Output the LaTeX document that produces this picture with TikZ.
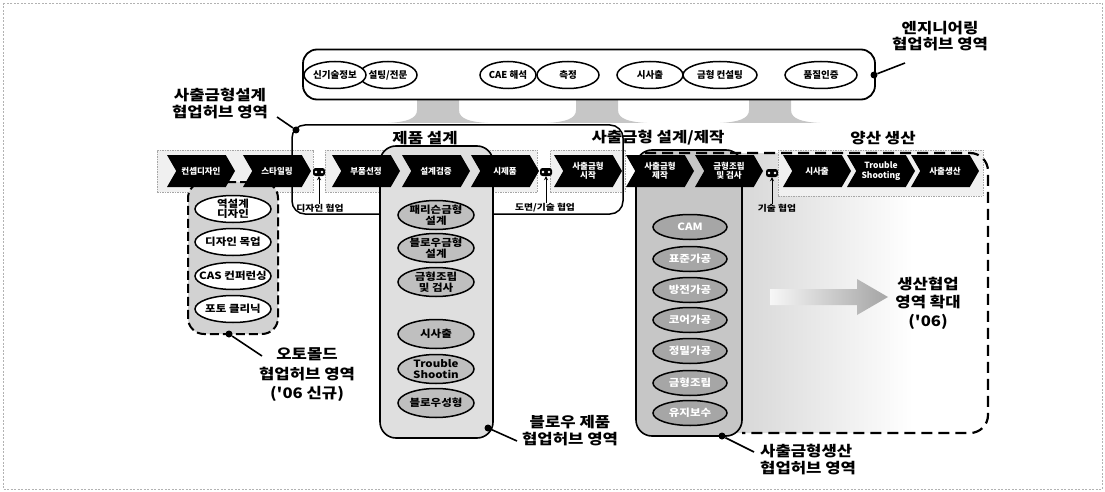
\documentclass[tikz,border=0pt]{standalone}
\usepackage{fontspec}
\setmainfont{Noto Sans CJK KR}
\newfontfamily\lblfont{Noto Sans CJK KR}[FakeStretch=1.15]
\usetikzlibrary{shapes.geometric,shapes.symbols,arrows.meta}
\pgfdeclarehorizontalshading{prodfade}{100bp}{color(0bp)=(gray!60); color(35bp)=(gray!28); color(62bp)=(white); color(100bp)=(white)}
\pgfdeclarehorizontalshading{arrowfade}{100bp}{color(0bp)=(white); color(20bp)=(white); color(70bp)=(gray!65); color(100bp)=(gray!80)}
\tikzset{
  lbl/.style={font=\lblfont\bfseries\fontsize{14.5}{17}\selectfont, align=center, inner sep=0pt},
  small/.style={font=\lblfont\bfseries\fontsize{8.5}{9}\selectfont, inner sep=0pt},
  chev/.style={signal, signal from=west, signal to=east, signal pointer angle=120, fill=black, text=white, minimum width=68pt, minimum height=32pt, inner sep=0pt, font=\bfseries\fontsize{8.5}{9.5}\selectfont, align=center},
  grp/.style={draw=gray!70, dash pattern=on 1.5pt off 1pt, fill=gray!12, line width=0.8pt, minimum height=42pt, inner sep=0pt},
  colbox/.style={draw=black, line width=1.6pt, rounded corners=16pt, inner sep=0pt},
  etxt/.style={font=\lblfont\bfseries\fontsize{10}{10.5}\selectfont, align=center, inner sep=0pt},
  etxte/.style={font=\bfseries\fontsize{9.5}{10}\selectfont, align=center, inner sep=0pt},
  etxtw/.style={etxt, text=white},
  elw/.style={ellipse, draw=black, line width=1.5pt, fill=white, inner sep=0pt, minimum height=27pt},
  elg/.style={elw, fill=gray!50, minimum height=29pt, minimum width=76pt},
  eld/.style={elw, fill=gray!70, minimum height=25pt, minimum width=74pt},
  ela/.style={elw, minimum width=76pt},
  linksym/.style={fill=black, rounded corners=2.5pt, minimum width=12pt, minimum height=8pt, inner sep=0pt,
    path picture={\fill[white] ([xshift=-3pt]path picture bounding box.center) circle (1.3pt) ([xshift=3pt]path picture bounding box.center) circle (1.3pt);}},
  dotc/.style={circle, fill=black, minimum size=7pt, inner sep=0pt},
  leader/.style={line width=1.6pt},
  uparrow/.style={line width=1pt, -{Stealth[length=4pt,width=4pt]}},
  frame/.style={draw=gray!60, line width=0.6pt, dash pattern=on 2pt off 1.5pt},
  downarr/.style={fill=gray!45},
}
\begin{document}
\begin{tikzpicture}[x=1pt,y=-1pt]
\useasboundingbox (0,0) rectangle (1105,492);
\draw[frame] (3,3) rectangle (1102,489);

% production area shading
\shade[shading=prodfade, rounded corners=18pt] (700,153) rectangle (988,433);

% chevron group boxes
\node[grp, minimum width=156pt] (g1) at (235,171) {};
\node[grp, minimum width=212pt] (g2) at (431,171) {};
\node[grp, minimum width=75pt] (g3) at (587.5,171) {};
\node[grp, minimum width=205pt, minimum height=46pt] (g4) at (880.5,173) {};

% injection-mould design hub outline
\node[draw=black, line width=1.5pt, rounded corners=13pt, minimum width=331pt, minimum height=89pt, inner sep=0pt] (hub) at (457.5,169.5) {};

% columns
\node[colbox, fill=gray!35, dash pattern=on 9pt off 4pt, line width=2pt, minimum width=90pt, minimum height=152pt] (colA) at (233,258) {};
\node[colbox, fill=gray!25, minimum width=113pt, minimum height=292pt] (colB) at (436.5,292) {};
\node[colbox, fill=gray!45, minimum width=106pt, minimum height=286pt] (colC) at (689,293) {};

% mass production dashed outline
\draw[line width=2.2pt, dash pattern=on 11pt off 6pt, rounded corners=18pt] (645,153) -- (988,153) -- (988,433) -- (742,433);

% down arrows from engineering hub
\foreach \c in {438,597,770} {
  \fill[downarr] (\c-21,99) -- (\c+21,99) -- (\c+21,110) .. controls (\c+21,119) and (\c+32,122) .. (\c+50,123) -- (\c-50,123) .. controls (\c-32,122) and (\c-21,119) .. (\c-21,110) -- cycle;
}

% engineering hub
\node[draw=black, line width=1.8pt, rounded corners=14pt, fill=white, minimum width=572pt, minimum height=50pt, inner sep=0pt] (eng) at (589,74.5) {};
\node[elw, minimum width=58pt, label={[etxte]center:설팅/전문}] (e2) at (388,75) {};
\node[elw, minimum width=62pt, label={[etxte]center:신기술정보}] (e1) at (335,75) {};
\node[elw, minimum width=56pt, label={[etxte]center:CAE 해석}] (e3) at (508,75) {};
\node[elw, minimum width=62pt, label={[etxte]center:측정}] (e4) at (568,75) {};
\node[elw, minimum width=66pt, label={[etxte]center:시사출}] (e5) at (650,75) {};
\node[elw, minimum width=74pt, label={[etxte]center:금형 컨설팅}] (e6) at (720,75) {};
\node[elw, minimum width=72pt, label={[etxte]center:품질인증}] (e7) at (821,75) {};

% chevrons
\node[chev] (c1) at (201,171) {컨셉디자인};
\node[chev] (c2) at (277,171) {스타일링};
\node[chev] (c3) at (366,171) {부품선정};
\node[chev] (c4) at (436,171) {설계검증};
\node[chev] (c5) at (505,171) {시제품};
\node[chev] (c6) at (588,171) {사출금형\\시작};
\node[chev] (c7) at (660,171) {사출금형\\제작};
\node[chev] (c8) at (729,171) {금형조립\\및 검사};
\node[chev] (c9) at (817,171) {시사출};
\node[chev] (c10) at (881,171) {Trouble\\Shooting};
\node[chev] (c11) at (945,171) {사출생산};

% collaboration links
\node[linksym] (k1) at (319,172) {};
\node[linksym] (k2) at (546,172) {};
\node[linksym] (k3) at (772,173) {};
\node[small] (kl1) at (320,208) {디자인 협업};
\node[small] (kl2) at (545,208) {도면/기술 협업};
\node[small] (kl3) at (777,208) {기술 협업};
\draw[uparrow] (k1.south |- kl1.north) -- (k1.south);
\draw[uparrow] (k2.south |- kl2.north) -- (k2.south);
\draw[uparrow] (k3.south |- kl3.north) -- (k3.south);

% column A ellipses
\node[ela, label={[etxt]center:역설계\\디자인}] (a1) at (233,209) {};
\node[ela, label={[etxt]center:디자인 목업}] (a2) at (233,242) {};
\node[ela, label={[etxt]center:CAS 컨퍼런싱}] (a3) at (233,276) {};
\node[ela, label={[etxt]center:포토 클리닉}] (a4) at (233,309) {};

% column B ellipses
\node[elg, label={[etxt]center:패리슨금형\\설계}] (b1) at (436,215) {};
\node[elg, label={[etxt]center:블로우금형\\설계}] (b2) at (436,248) {};
\node[elg, label={[etxt]center:금형조립\\및 검사}] (b3) at (436,282) {};
\node[elg, label={[etxt]center:시사출}] (b4) at (436,334) {};
\node[elg, label={[etxt]center:Trouble\\Shootin}] (b5) at (436,369) {};
\node[elg, label={[etxt]center:블로우성형}] (b6) at (436,403) {};

% column C ellipses
\node[eld, label={[etxtw]center:CAM}] (d1) at (690,227) {};
\node[eld, label={[etxtw]center:표준가공}] (d2) at (690,259) {};
\node[eld, label={[etxtw]center:방전가공}] (d3) at (690,290) {};
\node[eld, label={[etxtw]center:코어가공}] (d4) at (690,320) {};
\node[eld, label={[etxtw]center:정밀가공}] (d5) at (690,351) {};
\node[eld, label={[etxtw]center:금형조립}] (d6) at (690,383) {};
\node[eld, label={[etxtw]center:유지보수}] (d7) at (690,413) {};

% expansion arrow
\shade[shading=arrowfade] (770,289) -- (857,289) -- (857,279) -- (888,297) -- (857,315) -- (857,305) -- (770,305) -- cycle;
\node[lbl, font=\lblfont\bfseries\fontsize{14.5}{18.5}\selectfont] (lexp) at (928,303) {생산협업\\영역 확대\\('06)};

% section labels
\node[lbl] (lprod) at (425,138) {제품 설계};
\node[lbl] (lmold) at (658,138) {사출금형 설계/제작};
\node[lbl] (lmass) at (883,138) {양산 생산};

% hub labels with leaders
\node[lbl, font=\lblfont\bfseries\fontsize{14.5}{15.5}\selectfont] (leng) at (940,36) {엔지니어링\\협업허브 영역};
\node[dotc] (deng) at (874,75) {};
\coordinate (teng) at (905,63);
\draw[leader] (deng) -- (teng);

\node[lbl] (lhub) at (220,104) {사출금형설계\\협업허브 영역};
\node[dotc] (dhub) at (296,130) {};
\coordinate (thub) at (277,117);
\draw[leader] (dhub) -- (thub);

\node[lbl, font=\lblfont\bfseries\fontsize{14.5}{19.5}\selectfont] (lA) at (307,375) {오토몰드\\협업허브 영역\\('06 신규)};
\node[dotc] (dA) at (229,334) {};
\coordinate (tA) at (262,356);
\draw[leader] (dA) -- (tA);

\node[lbl] (lB) at (570,431) {블로우 제품\\협업허브 영역};
\node[dotc] (dB) at (488,428) {};
\coordinate (tB) at (517,441);
\draw[leader] (dB) -- (tB);

\node[lbl, anchor=west, align=left] (lC) at (760,460) {사출금형생산\\협업허브 영역};
\node[dotc] (dC) at (722,436) {};
\coordinate (tC) at (754,452);
\draw[leader] (dC) -- (tC);
\end{tikzpicture}
\end{document}
